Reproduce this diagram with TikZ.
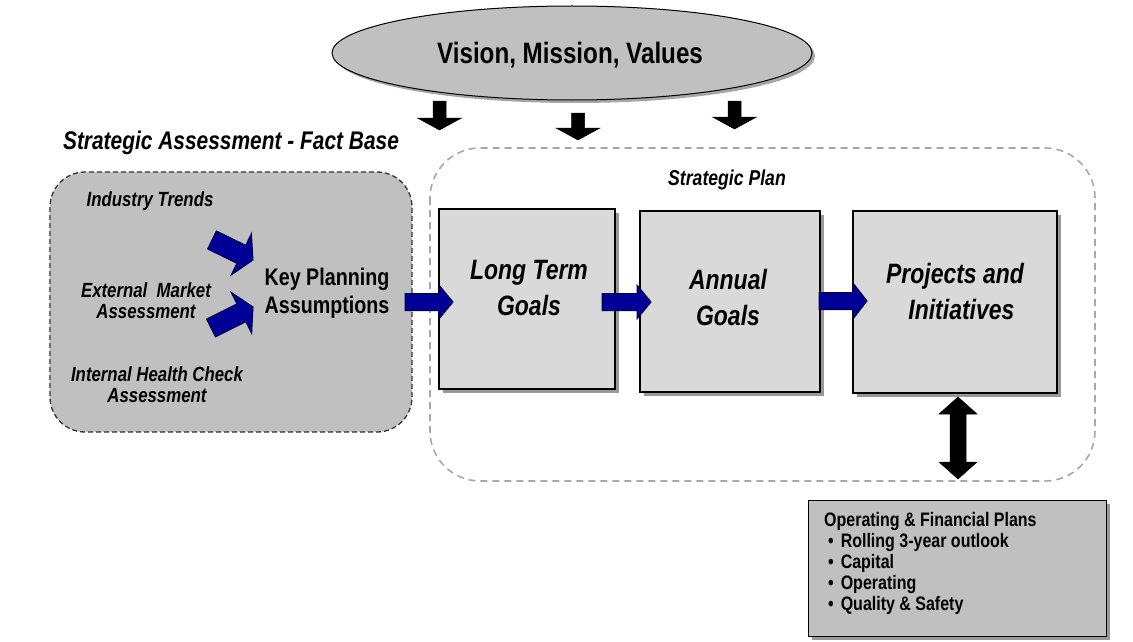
\documentclass[tikz,border=0pt]{standalone}
\usepackage{fontspec}
\setmainfont{Liberation Sans}[FakeStretch=0.82]
\usetikzlibrary{calc,shapes.geometric,shadows}
\definecolor{midgray}{HTML}{C0C0C0}
\definecolor{lightbox}{HTML}{D9D9D9}
\definecolor{navy}{HTML}{000099}
\definecolor{navyline}{HTML}{000044}
\definecolor{dashgray}{HTML}{A8A8A8}
\newcommand\fsz[2]{\fontsize{#1}{#2}\selectfont}
% block arrow: [style]{from}{to}{shaft half width}{head half width}{head length}
\newcommand\blk[6][]{%
  \coordinate (bkC) at ($(#3)!#6!(#2)$);
  \draw[#1] ($(#2)!#4!90:(#3)$) -- ($(bkC)!#4!90:(#3)$) -- ($(bkC)!#5!90:(#3)$) -- (#3)
    -- ($(bkC)!#5!-90:(#3)$) -- ($(bkC)!#4!-90:(#3)$) -- ($(#2)!#4!-90:(#3)$) -- cycle;}
% double-headed block arrow
\newcommand\dblk[6][]{%
  \coordinate (bkA) at ($(#2)!#6!(#3)$);
  \coordinate (bkB) at ($(#3)!#6!(#2)$);
  \draw[#1] (#2) -- ($(bkA)!#5!90:(#3)$) -- ($(bkA)!#4!90:(#3)$) -- ($(bkB)!#4!90:(#3)$)
    -- ($(bkB)!#5!90:(#3)$) -- (#3) -- ($(bkB)!#5!-90:(#3)$) -- ($(bkB)!#4!-90:(#3)$)
    -- ($(bkA)!#4!-90:(#3)$) -- ($(bkA)!#5!-90:(#3)$) -- cycle;}
\newcommand\bul{\hspace*{4pt}\textbullet\hspace{7pt}}
\tikzset{
  goalbox/.style={draw=black, line width=1.6pt, fill=lightbox, inner sep=0pt,
    drop shadow={shadow xshift=4pt, shadow yshift=-4pt, fill=black!40, opacity=1}},
  goaltxt/.style={font=\bfseries\itshape\fsz{28}{36}, align=center, inner sep=0pt},
  sidetxt/.style={font=\bfseries\itshape\fsz{20.5}{21}, align=center, inner sep=0pt},
  bluearrow/.style={fill=navy, draw=navyline, line width=1pt, line join=miter},
  blackarrow/.style={fill=black, draw=black, line width=0.5pt}
}
\begin{document}
\begin{tikzpicture}[x=1pt,y=-1pt]
\useasboundingbox[fill=white] (0,0) rectangle (1133,642);

% Strategic plan dashed region
\draw[dashgray, line width=1.6pt, dash pattern=on 7pt off 5pt, rounded corners=50pt]
  (430,148) rectangle (1095,481);
\node[font=\bfseries\itshape\fsz{21.5}{24}, inner sep=0pt] (sptitle) at (727,180) {Strategic Plan};

% Vision ellipse
\node[ellipse, draw=black, line width=1pt, fill=midgray, minimum width=480pt, minimum height=94pt,
  drop shadow={shadow xshift=3pt, shadow yshift=-3pt, fill=black!35, opacity=1}]
  (vision) at (572,53) {};
\node[font=\bfseries\fsz{29.5}{33}, inner sep=0pt] (visiontxt) at (570,55) {Vision, Mission, Values};

% Fact base box
\node[font=\bfseries\itshape\fsz{25.5}{28}, inner sep=0pt] (fbtitle) at (231,143) {Strategic Assessment - Fact Base};
\draw[draw=black!80, fill=midgray, line width=1.3pt, dash pattern=on 5pt off 3pt, rounded corners=35pt]
  (50,172) rectangle (412,432);
\node[sidetxt] (ind) at (150,201) {Industry Trends};
\node[sidetxt] (ext) at (146,301) {External\ \ Market\\Assessment};
\node[sidetxt] (int) at (157,385) {Internal Health Check\\Assessment};
\node[font=\bfseries\fsz{24}{28}, align=center, inner sep=0pt] (kpa) at (327,293) {Key Planning\\Assumptions};

% bent blue arrows into key planning assumptions
\coordinate (ba1s) at (212,240);
\coordinate (ba1e) at (253,260);
\coordinate (ba2s) at (211,328);
\coordinate (ba2e) at (253,307);
\blk[bluearrow]{ba1s}{ba1e}{10pt}{23pt}{13pt}
\blk[bluearrow]{ba2s}{ba2e}{10pt}{23pt}{13pt}

% Goal boxes
\node[goalbox, minimum width=176pt, minimum height=180pt] (ltg) at (527,299) {};
\node[goalbox, minimum width=180pt, minimum height=181pt] (ag) at (730,301.5) {};
\node[goalbox, minimum width=204pt, minimum height=182pt] (pi) at (955,302) {};
\node[goaltxt] (ltgt) at (529,288) {Long Term\\Goals};
\node[goaltxt] (agt) at (728,297) {Annual\\Goals};
\node[goaltxt] (pit) at (955,291) {Projects and\\\ \ Initiatives};

% blue connectors
\coordinate (c1s) at (405,302);
\coordinate (c1e) at (453,302);
\coordinate (c2s) at (602,302);
\coordinate (c2e) at (651,302);
\coordinate (c3s) at (819,301);
\coordinate (c3e) at (867,301);
\blk[bluearrow]{c1s}{c1e}{8.5pt}{17pt}{14pt}
\blk[bluearrow]{c2s}{c2e}{8.5pt}{17pt}{14pt}
\blk[bluearrow]{c3s}{c3e}{8.5pt}{18pt}{14pt}

% black down arrows from vision
\coordinate (d1s) at (439.5,101);
\coordinate (d1e) at (439.5,130);
\coordinate (d2s) at (578,113);
\coordinate (d2e) at (578,140);
\coordinate (d3s) at (734.5,101);
\coordinate (d3e) at (734.5,129);
\blk[blackarrow]{d1s}{d1e}{6.5pt}{22pt}{12pt}
\blk[blackarrow]{d2s}{d2e}{6.5pt}{22pt}{12pt}
\blk[blackarrow]{d3s}{d3e}{6.5pt}{22pt}{12pt}

% Operating & financial plans box
\node[draw=black, line width=1pt, fill=midgray, minimum width=298pt, minimum height=136pt, inner sep=0pt,
  drop shadow={shadow xshift=4pt, shadow yshift=-4pt, fill=black!40, opacity=1}]
  (ofp) at (957,568) {};
\node[font=\bfseries\fsz{19.5}{21}, align=left, anchor=north west, inner sep=0pt] (ofpt) at (824,512)
  {Operating \& Financial Plans\\
   \bul Rolling 3-year outlook\\
   \bul Capital\\
   \bul Operating\\
   \bul Quality \& Safety};

% double black arrow
\coordinate (dbt) at (958,397);
\coordinate (dbb) at (958,479);
\dblk[blackarrow]{dbt}{dbb}{8pt}{19pt}{17pt}
\end{tikzpicture}
\end{document}
